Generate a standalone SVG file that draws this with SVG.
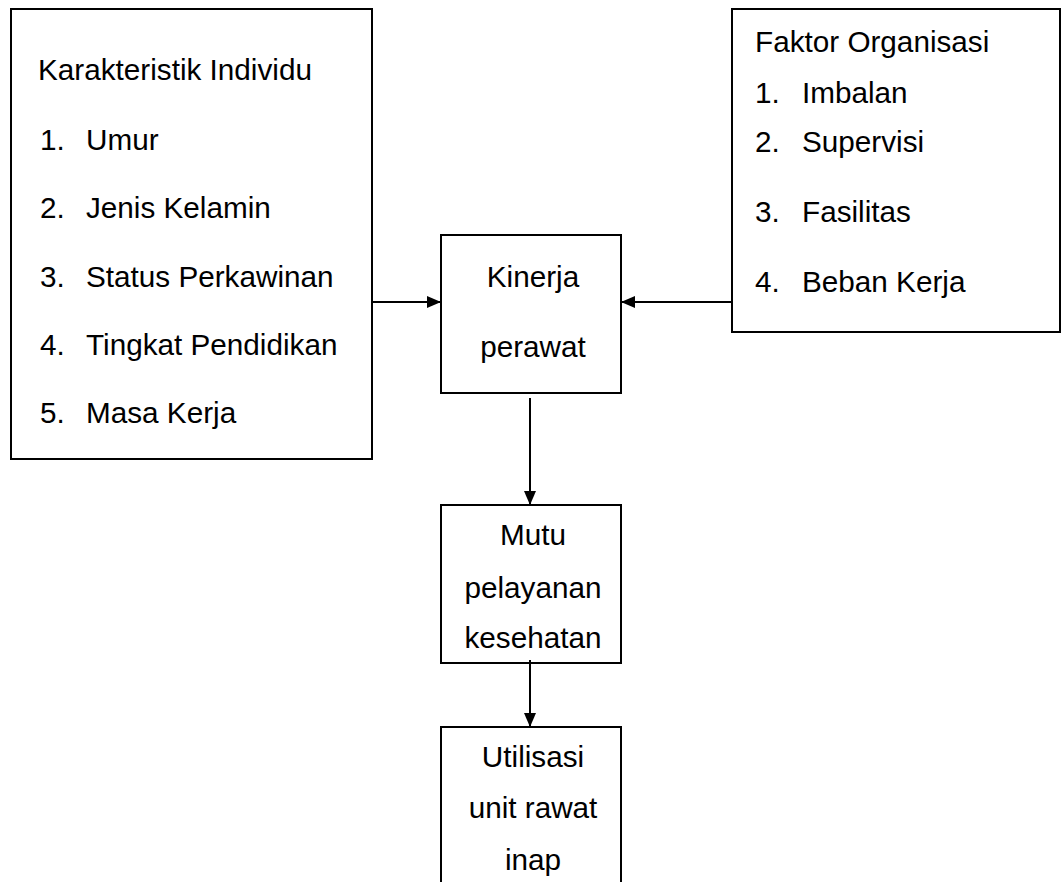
<svg xmlns="http://www.w3.org/2000/svg" width="1062" height="882" viewBox="0 0 1062 882">
<style>
.box{fill:#fff;stroke:#000;stroke-width:2}
.t{font-family:"Liberation Sans",Arial,sans-serif;font-size:29.7px;fill:#000}
.c{text-anchor:middle}
.ln{stroke:#000;stroke-width:2;fill:none}
</style>
<defs>
<marker id="ah" viewBox="0 0 14 12" refX="14" refY="6" markerWidth="14" markerHeight="12" markerUnits="userSpaceOnUse" orient="auto">
<path d="M0,0 L14,6 L0,12 Z" fill="#000"/>
</marker>
</defs>
<rect width="1062" height="882" fill="#fff"/>
<g id="individu">
<rect class="box" x="11" y="9" width="361" height="450"/>
<text class="t" x="38" y="80">Karakteristik Individu</text>
<text class="t" x="40" y="150">1.</text><text class="t" x="86" y="150">Umur</text>
<text class="t" x="40" y="218">2.</text><text class="t" x="86" y="218">Jenis Kelamin</text>
<text class="t" x="40" y="287">3.</text><text class="t" x="86" y="287">Status Perkawinan</text>
<text class="t" x="40" y="355">4.</text><text class="t" x="86" y="355">Tingkat Pendidikan</text>
<text class="t" x="40" y="423">5.</text><text class="t" x="86" y="423">Masa Kerja</text>
</g>
<g id="organisasi">
<rect class="box" x="732" y="9" width="328" height="323"/>
<text class="t" x="755" y="52">Faktor Organisasi</text>
<text class="t" x="755" y="103">1.</text><text class="t" x="802" y="103">Imbalan</text>
<text class="t" x="755" y="152">2.</text><text class="t" x="802" y="152">Supervisi</text>
<text class="t" x="755" y="222">3.</text><text class="t" x="802" y="222">Fasilitas</text>
<text class="t" x="755" y="292">4.</text><text class="t" x="802" y="292">Beban Kerja</text>
</g>
<g id="kinerja">
<rect class="box" x="441" y="235" width="180" height="158"/>
<text class="t c" x="533" y="287">Kinerja</text>
<text class="t c" x="533" y="357">perawat</text>
</g>
<g id="mutu">
<rect class="box" x="441" y="505" width="180" height="158"/>
<text class="t c" x="533" y="545">Mutu</text>
<text class="t c" x="533" y="598">pelayanan</text>
<text class="t c" x="533" y="648">kesehatan</text>
</g>
<g id="utilisasi">
<path class="ln" d="M441,892 L441,727 L621,727 L621,892"/>
<text class="t c" x="533" y="767">Utilisasi</text>
<text class="t c" x="533" y="818">unit rawat</text>
<text class="t c" x="533" y="870">inap</text>
</g>
<g id="connectors">
<line class="ln" x1="372" y1="302" x2="441" y2="302" marker-end="url(#ah)"/>
<line class="ln" x1="732" y1="302" x2="621" y2="302" marker-end="url(#ah)"/>
<line class="ln" x1="530" y1="398" x2="530" y2="505" marker-end="url(#ah)"/>
<line class="ln" x1="530" y1="660" x2="530" y2="727" marker-end="url(#ah)"/>
</g>
</svg>
